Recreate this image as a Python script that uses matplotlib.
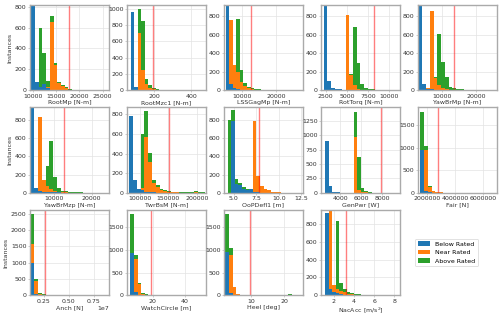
import numpy as np
import matplotlib
matplotlib.use('Agg')
import matplotlib.pyplot as plt

plt.rcParams['font.family'] = 'DejaVu Sans'
plt.rcParams['font.size'] = 9
plt.rcParams['axes.edgecolor'] = '#aaaaaa'
plt.rcParams['axes.linewidth'] = 2
plt.rcParams['xtick.color'] = '#aaaaaa'
plt.rcParams['ytick.color'] = '#aaaaaa'
plt.rcParams['xtick.labelcolor'] = '#333333'
plt.rcParams['ytick.labelcolor'] = '#333333'

classes = ['Below Rated', 'Near Rated', 'Above Rated']
colors = ['#1f77b4', '#ff7f0e', '#2ca02c']

channels = ['RootMp [N-m]', 'RootMzc1 [N-m]', 'LSSGagMp [N-m]', 'RotTorq [N-m]', 'YawBrMp [N-m]',
            'YawBrMzp [N-m]', 'TwrBsM [N-m]', 'OoPDefl1 [m]', 'GenPwr [W]', 'Fair [N]',
            'Anch [N]', 'WatchCircle [m]', 'Heel [deg]', 'NacAcc [m/s$^2$]']

# histogram bins: first edge and bin width (20 bins each)
bin_start = [9600, 72, 5100, 2270, 3050, 3720, 82000, 4.3, 2560, 1.5e6, 1.2e6, 6.2, 2.1, 1.1]
bin_width = [800, 19.3, 1060, 430, 1100, 1000, 6600, 0.4, 340, 0.27e6, 0.38e6, 2.2, 1.12, 0.36]

# design load limits (red lines)
limits = [17800, 195, 12580, 8140, 13510, 12600, 151500, 7.85, 7900, 2.81e6, 2.6e6, 19.1, 9.7, 3.18]

# counts per bin: below / near / above rated
below_rootmp = [1500, 80, 30, 60, 20, 5, 3, 2, 1]
near_rootmp = [0, 0, 0, 0, 10, 650, 240, 65, 45, 20, 8, 3, 2, 1]
above_rootmp = [0, 0, 570, 300, 55, 60, 20, 12, 10, 8, 5, 3, 2, 1, 1]

below_rootmzc1 = [960, 40, 10, 5, 3, 2, 1]
near_rootmzc1 = [0, 5, 690, 250, 70, 30, 15, 8, 5, 3, 1]
above_rootmzc1 = [0, 0, 300, 600, 70, 30, 10, 8, 5, 3, 2, 1]

below_lssgagmp = [1500, 70, 30, 10, 5, 3, 2, 1]
near_lssgagmp = [0, 690, 240, 190, 90, 40, 20, 12, 8, 5, 3, 2, 1]
above_lssgagmp = [0, 0, 0, 570, 120, 40, 15, 10, 8, 5, 3, 2, 1, 1]

below_rottorq = [1500, 100, 25, 15, 10, 5, 3, 2, 1]
near_rottorq = [0, 0, 0, 0, 0, 0, 815, 165, 60, 20, 8, 4, 2, 1]
above_rottorq = [0, 0, 0, 0, 0, 0, 0, 5, 620, 280, 65, 25, 15, 10, 6, 4, 2, 1, 1, 1]

below_yawbrmp = [1500, 70, 20, 10, 5, 3, 2, 1]
near_yawbrmp = [0, 0, 5, 845, 130, 60, 20, 10, 5, 3, 2, 1]
above_yawbrmp = [0, 0, 0, 0, 5, 550, 280, 130, 35, 25, 15, 10, 8, 5, 3, 2, 1, 1, 1, 1]

below_yawbrmzp = [1500, 50, 15, 10, 10, 8, 5, 3, 2, 1]
near_yawbrmzp = [0, 0, 815, 130, 60, 30, 15, 10, 5, 3, 2, 1]
above_yawbrmzp = [0, 0, 0, 0, 230, 530, 150, 35, 15, 12, 10, 8, 5, 3, 2, 1, 1]

below_twrbsm = [780, 130, 40, 25, 10, 5, 3, 2, 1, 1, 1]
near_twrbsm = [0, 0, 0, 20, 560, 310, 100, 60, 30, 15, 8, 5, 3, 2, 1, 1, 2, 3, 2, 1]
above_twrbsm = [0, 0, 0, 555, 260, 90, 30, 20, 10, 8, 5, 3, 2, 2, 3, 5, 8, 10, 8, 3]

below_oopdefl1 = [0, 790, 100, 80, 40, 30, 40, 10, 3, 1]
near_oopdefl1 = [0, 0, 0, 0, 0, 0, 0, 780, 180, 70, 45, 25, 10, 5, 3, 1]
above_oopdefl1 = [800, 120, 50, 30, 20, 10]

below_genpwr = [900, 110, 20, 5, 2, 1]
near_genpwr = [0, 0, 0, 0, 0, 0, 0, 0, 960, 40, 20, 5, 2]
above_genpwr = [0, 0, 0, 0, 0, 0, 0, 0, 440, 580, 60, 20, 8, 3, 1]

below_fair = [960, 50, 10, 5, 2, 1]
near_fair = [0, 900, 120, 25, 10, 5, 2]
above_fair = [840, 90, 15, 20, 10, 5, 3, 2, 1]

below_anch = [980, 30, 5, 2, 1]
near_anch = [590, 400, 30, 10, 5, 2, 1]
above_anch = [920, 60, 35, 10, 5, 3, 1]

below_watch = [930, 70, 5, 2]
near_watch = [0, 730, 250, 25, 10, 5, 3, 2, 1]
above_watch = [870, 90, 20, 15, 10, 5, 3, 2, 2, 1, 1, 1, 2, 3, 4, 5, 3, 2, 1, 1]

below_heel = [960, 40, 5]
near_heel = [0, 860, 175, 20, 3, 0, 0, 0, 0, 0, 0, 0, 0, 0, 0, 0, 5, 8, 4]
above_heel = [840, 150, 5, 0, 0, 0, 0, 0, 0, 0, 0, 0, 0, 0, 0, 0, 8, 10, 6, 2]

below_nacacc = [920, 70, 30, 20, 10, 5, 3, 2, 1]
near_nacacc = [0, 1050, 80, 50, 40, 30, 15, 10, 5, 3, 2, 1]
above_nacacc = [0, 0, 0, 760, 90, 35, 15, 10, 8, 6, 4, 3, 2, 1, 1, 1]

below = [below_rootmp, below_rootmzc1, below_lssgagmp, below_rottorq, below_yawbrmp,
         below_yawbrmzp, below_twrbsm, below_oopdefl1, below_genpwr, below_fair,
         below_anch, below_watch, below_heel, below_nacacc]
near = [near_rootmp, near_rootmzc1, near_lssgagmp, near_rottorq, near_yawbrmp,
        near_yawbrmzp, near_twrbsm, near_oopdefl1, near_genpwr, near_fair,
        near_anch, near_watch, near_heel, near_nacacc]
above = [above_rootmp, above_rootmzc1, above_lssgagmp, above_rottorq, above_yawbrmp,
         above_yawbrmzp, above_twrbsm, above_oopdefl1, above_genpwr, above_fair,
         above_anch, above_watch, above_heel, above_nacacc]

# axes settings
xlims = [(9330, 26340), (53, 478), (4660, 28000), (1970, 11240), (2860, 26090),
         (3530, 24640), (78200, 215400), (3.9, 12.7), (2160, 9690), (1.35e6, 7.0e6),
         (1.14e6, 9.03e6), (4.1, 53), (1.7, 25.7), (0.72, 8.55)]
ylims = [815, 1045, 920, 920, 920, 940, 870, 940, 1480, 1900, 2630, 1890, 1890, 960]
xticks = [[10000, 15000, 20000, 25000], [200, 400], [10000, 20000], [2500, 5000, 7500, 10000],
          [10000, 20000], [10000, 20000], [100000, 150000, 200000], [5.0, 7.5, 10.0, 12.5],
          [4000, 6000, 8000], [2e6, 4e6, 6e6], [2.5e6, 5e6, 7.5e6], [20, 40], [10, 20],
          [2, 4, 6, 8]]

NBINS = 20


def pad(c):
    return np.array(list(c) + [0] * (NBINS - len(c)), dtype=float)


fig, axes = plt.subplots(3, 5, figsize=(10, 6.3), dpi=50)
fig.subplots_adjust(left=0.06, right=0.994, bottom=0.063, top=0.984, wspace=0.23, hspace=0.2)

for i, name in enumerate(channels):
    ax = axes.flat[i]
    edges = bin_start[i] + bin_width[i] * np.arange(NBINS + 1)
    centers = 0.5 * (edges[:-1] + edges[1:])
    ax.hist([centers] * 3, bins=edges,
            weights=[pad(below[i]), pad(near[i]), pad(above[i])],
            stacked=True, color=colors, label=classes, histtype='barstacked')
    ax.axvline(limits[i], color='red', alpha=0.5, lw=2)
    ax.set_xlim(xlims[i])
    ax.set_ylim(0, ylims[i])
    ax.set_xticks(xticks[i])
    ax.set_xlabel(name, color='#333333', labelpad=2)
    ax.grid(True, color='#e3e3e3', lw=1)
    ax.set_axisbelow(True)
    ax.tick_params(length=3, pad=2)
    if i % 5 == 0:
        ax.set_ylabel('Instances', color='#333333')
    if name.startswith('Fair'):
        ax.ticklabel_format(axis='x', style='plain')
    if name.startswith('Anch'):
        ax.ticklabel_format(axis='x', style='sci', scilimits=(7, 7))

# last cell holds only the legend
leg_ax = axes.flat[14]
leg_ax.axis('off')
handles, lbls = axes.flat[0].get_legend_handles_labels()
leg_ax.legend(handles, lbls, loc='center', bbox_to_anchor=(0.36, 0.5), frameon=True)

fig.savefig('out.png', dpi=50)
